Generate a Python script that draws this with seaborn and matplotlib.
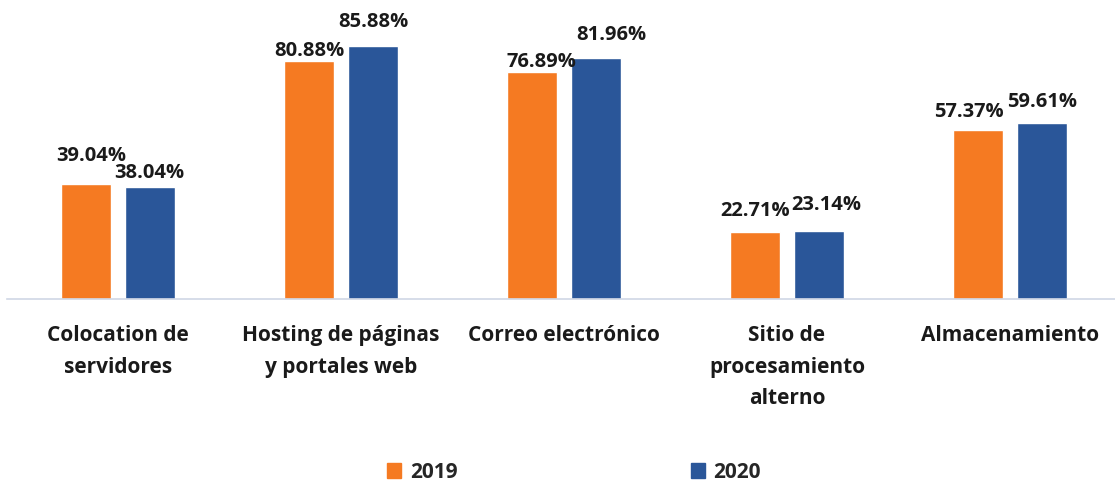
import pandas as pd
import matplotlib.pyplot as plt
import seaborn as sns

# Data
categories = ['Colocation de\nservidores', 'Hosting de páginas\ny portales web',
              'Correo electrónico', 'Sitio de\nprocesamiento\nalterno', 'Almacenamiento']
years = ['2019', '2020']
values_2019 = [39.04, 80.88, 76.89, 22.71, 57.37]
values_2020 = [38.04, 85.88, 81.96, 23.14, 59.61]

# label nudges (pixels) so labels sit like in the original
nudge_2019 = [(5, 18), (0, 0), (10, 0), (0, 11), (-9, 8)]
nudge_2020 = [(-1, 4), (0, 14), (15, 13), (7, 16), (0, 11)]

colors = ['#F57A22', '#2A5699']

df = pd.DataFrame({
    'categoria': categories * 2,
    'anio': [years[0]] * len(categories) + [years[1]] * len(categories),
    'valor': values_2019 + values_2020,
})

sns.set_style('white')
plt.rcParams['font.family'] = ['Open Sans', 'DejaVu Sans']

fig = plt.figure(figsize=(11.15, 4.82), dpi=100)
ax = fig.add_axes([6.5 / 1115, 183 / 482, 1 - 6.5 / 1115, 299 / 482])

sns.barplot(data=df, x='categoria', y='valor', hue='anio', palette=colors,
            width=0.575, gap=0.22, ax=ax, legend=False, saturation=1)

ax.set_xlim(-0.5, 4.471)
ax.set_ylim(0, 101.5)

for cont, nudges in zip(ax.containers, [nudge_2019, nudge_2020]):
    for bar, (dx, dy) in zip(cont, nudges):
        h = bar.get_height()
        ax.annotate(f'{h:.2f}%', (bar.get_x() + bar.get_width() / 2, h),
                    xytext=(dx, dy), textcoords='offset pixels',
                    ha='center', va='bottom', fontsize=14.5, fontweight='bold',
                    color='#1a1a1a')

ax.set_xlabel('')
ax.set_ylabel('')
ax.set_yticks([])
for s in ['top', 'left', 'right']:
    ax.spines[s].set_visible(False)
ax.spines['bottom'].set_color('#D0D7E5')
ax.spines['bottom'].set_linewidth(1.2)
ax.tick_params(axis='x', length=0, pad=19)
for lbl in ax.get_xticklabels():
    lbl.set_fontsize(15)
    lbl.set_fontweight('bold')
    lbl.set_color('#1a1a1a')
    lbl.set_linespacing(1.65)
    lbl.set_va('top')

handles = [plt.Rectangle((0, 0), 1, 1, color=c) for c in colors]
fig.legend(handles, years, loc='center', bbox_to_anchor=(574 / 1115, 1 - 472 / 482),
           ncol=2, frameon=False, columnspacing=11.2, handlelength=0.7, handleheight=0.7,
           handletextpad=0.4, prop={'weight': 'bold', 'size': 15})

fig.savefig('out.png', dpi=100)
